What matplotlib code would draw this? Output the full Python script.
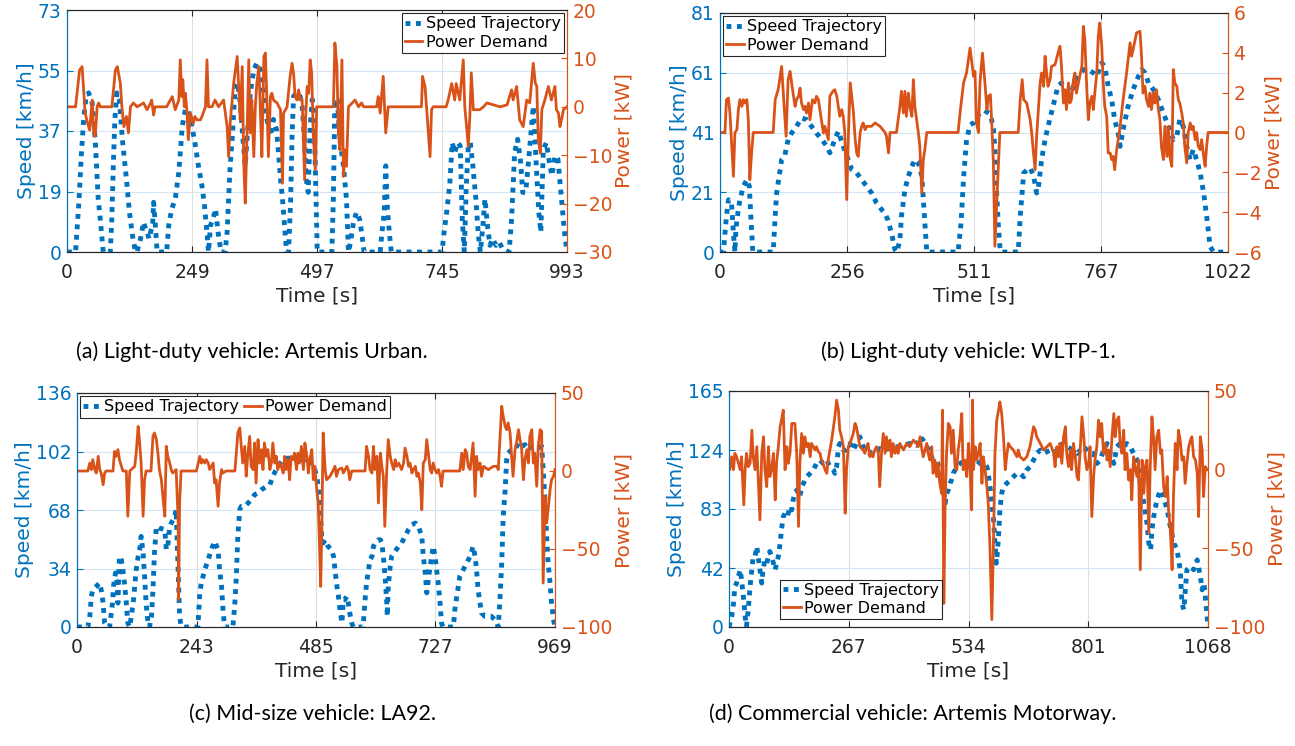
import matplotlib
matplotlib.use("Agg")
import matplotlib.pyplot as plt

# ---------------- data ----------------
# (a) Light-duty vehicle: Artemis Urban
a_speed_t = [0, 17, 20, 24, 28, 33, 38, 43, 50, 56, 62, 66, 72,
             86, 89, 92, 95, 99, 104, 110, 118, 124, 130, 136,
             139, 146, 152, 156, 159, 163, 166, 170, 172, 175, 179,
             198, 202, 208, 215, 222, 226, 229, 235, 241, 248, 254, 261, 268, 273, 278, 281, 285, 290, 295, 300, 306,
             314, 318, 321, 324, 328, 331, 334, 339, 344, 349, 354, 358, 364, 371, 377, 384, 391, 397, 404, 410,
             416, 420, 424, 428, 432, 436,
             440, 444, 447, 450, 457, 463, 467, 471, 475, 479, 483, 487, 491, 494, 497,
             526, 529, 532, 537, 542, 549, 555, 559,
             563, 569, 575, 581, 586, 590,
             622, 625, 630, 633, 636, 640, 644,
             745, 748, 754, 760, 765, 770, 776, 781, 785, 789, 793, 797, 801, 806, 812, 817, 821, 826, 830, 835,
             840, 845, 852, 858, 865, 878, 883, 889, 895, 901, 905, 911, 917, 926, 932, 937, 941, 946, 952, 958,
             963, 969, 975, 982, 988, 993]
a_speed_v = [0, 0, 7, 16, 28, 40, 47, 48, 45, 34, 16, 10, 0,
             0, 10, 26, 40, 48, 46, 34, 22, 12, 5, 0,
             0, 4, 9, 7, 6, 4, 6, 8, 15, 9, 0,
             0, 8, 13, 16, 24, 32, 38, 43, 43, 38, 33, 26, 20, 14, 6, 0, 8, 10, 13, 6, 0,
             0, 6, 16, 26, 34, 42, 50, 51, 45, 35, 26, 35, 48, 55, 57, 55, 48, 40, 35, 40,
             37, 30, 22, 16, 8, 0,
             0, 15, 35, 47, 48, 47, 44, 35, 22, 18, 38, 46, 40, 20, 0,
             0, 16, 46, 46, 34, 26, 16, 0,
             3, 9, 12, 10, 5, 0,
             0, 5, 12, 26, 14, 6, 0,
             0, 5, 12, 20, 33, 30, 33, 32, 10, 0, 20, 32, 33, 26, 16, 5, 0, 8, 16, 8,
             2, 4, 2, 3, 1, 0, 10, 30, 34, 27, 18, 18, 28, 44, 26, 12, 6, 31, 33, 27,
             23, 29, 28, 16, 6, 0]
a_power_t = [0, 17, 20, 25, 30, 33, 36, 41, 45, 50, 53, 56, 60, 63, 66,
             89, 93, 96, 100, 106, 109, 113, 118, 122, 126, 132, 139,
             146, 152, 159, 166, 168, 172, 175,
             198, 202, 209, 215, 222, 225, 228, 230, 233, 235, 238, 241, 245, 251, 254, 258, 265, 268, 275, 278,
             281, 288, 294, 301,
             311, 318, 321, 324, 331, 338, 341, 344, 348, 351, 354, 358, 361, 364, 367, 371, 374, 377, 381, 384,
             387, 391, 394, 397, 400, 404, 407, 410, 417, 424, 428, 430, 434, 437, 443, 447, 450, 453, 457, 460,
             464, 467, 472, 474, 477, 480, 483, 486, 489, 493, 496,
             529, 532, 536, 539, 542, 546, 549, 552, 555, 559,
             572, 575, 579, 585, 589,
             615, 618, 622, 628, 633, 638,
             704, 706, 711, 714, 721, 724, 727,
             753, 757, 764, 770, 773, 780, 787, 790, 797, 800, 803, 807, 814, 820, 827, 834, 847, 860, 874,
             883, 886, 893, 899, 906, 913, 919, 926, 930, 933, 936, 940, 943, 949, 956, 962, 969, 972, 976, 979,
             982, 986, 993]
a_power_p = [0, 0, 2.8, 7.6, 8.3, 3.5, -1.3, -3.4, -4.8, 1.4, -5.4, -6.1, 0.1, 0.8, 0,
             0, 4.2, 7.6, 8.3, 4.8, 0, -4.1, -2, -5.4, 0, 0.8, 0,
             0.4, 0.8, -0.6, 0.8, 1.4, -1.7, 0,
             0, 0.8, 2.1, -0.6, 1.4, 9.7, 2.1, 5.6, 0, 2.8, -0.6, -6.8, -1.3, -3.4, -2, -2.7, -2.7, -2, 0, 9.7,
             0, 0, 1.4, 0,
             1.4, -4.1, -10.3, -3.4, 4.9, 10.4, 4.2, -2.7, 8.3, -11.6, -19.9, -4.1, 9.7, -5.4, 1.4, -10.3, 0, 4.9, 8.3, -0.6,
             -10.3, 10.4, 11.1, 1.4, -10.3, 2.1, 2.8, 1.4, 0.8, -0.6, -15.8, -1.3, -0.6, 0, 6.2, 9, 6.9, 2.1, 1.4, 3.5,
             1.4, 1.4, -15.1, -2, 4.2, 2.8, 9.7, 6.9, -5.4, -13, 0,
             0, 13.2, 8.5, -5.4, -8.9, 9.7, -14.4, -8.9, -12.3, 0,
             1.4, 0.8, 0, 0.8, 0,
             0, 2.1, -1.3, 6.3, -5.4, 0,
             0, 6.3, 4.2, 0, -10.3, -0.6, 0,
             0, 1.4, 4.8, 1.4, 4.8, 1.4, 9.7, 0, -8.2, -2, 7, -0.6, -0.6, -0.6, 0, 0.8, 0.4, 0, 0.4,
             3.5, 1.4, 4.2, -2.7, -4.1, 1.4, 0.8, 9, 4.9, 4.2, -6.8, -9.6, -0.6, 1.4, 4.2, 1.4, 4.2, -0.6, -1.3, -4.1,
             -2.7, -0.6, 0]

# (b) Light-duty vehicle: WLTP-1
b_speed_t = [0, 7, 10, 13, 17, 23, 27, 30, 32, 35, 37, 40, 47, 54, 59, 62, 66,
             107, 111, 114, 119, 124, 130, 137, 144, 154, 164, 174, 184, 194, 205, 215, 221, 231, 238, 248, 258,
             265, 275, 285, 295, 305, 315, 325, 332, 338, 345, 352, 356,
             362, 365, 372, 379, 386, 392, 399, 406, 409, 413, 416,
             479, 485, 490, 496, 503, 512, 522, 532, 541, 546, 550, 553, 556, 560, 563, 565,
             600, 604, 611, 618, 624, 631, 637, 640, 647, 654, 660, 670, 680, 687, 694, 701, 711, 721, 731, 741,
             751, 758, 768, 774, 781, 788, 794, 801, 805, 811, 821, 831, 842, 849, 855, 862, 872, 882, 892, 902,
             912, 919, 925, 932, 939, 946, 952, 959, 966, 973, 979, 986, 993, 1022]
b_speed_v = [0, 0, 6.4, 12.1, 17.7, 17.2, 6.4, 0, 7.6, 12.1, 14.4, 17.7, 22.3, 24.5, 22.3, 12.1, 0,
             0, 12.1, 20, 25.7, 31.3, 32.4, 38.1, 40.3, 42.6, 45.4, 44.9, 42.6, 40.3, 38.1, 35.8, 33.6, 38.1, 40.9, 35.8, 31.3,
             27.9, 26.8, 24.5, 22.3, 20, 16.6, 14.4, 13.1, 10.7, 6.4, 0.8, 0,
             4.2, 12.1, 21.1, 25.7, 29, 31.3, 30.2, 25.7, 17.7, 7.6, 0,
             0, 10, 25, 38, 43, 44, 47, 48, 47, 45, 42, 35, 22, 9, 2, 0,
             0, 12.1, 26.8, 27.9, 28.5, 25.7, 20, 21.1, 31.3, 38.1, 42.6, 49.4, 56.2, 57.3, 53.9, 51.6, 56.2, 59.6, 61.8, 61.8,
             60.7, 59.6, 64.1, 62.9, 56.2, 51.6, 44.9, 40.3, 35.8, 41.5, 49.4, 55, 59.6, 61.8, 60.7, 57.3, 55, 51.6, 47.1, 42.6,
             38.1, 39.2, 44.9, 42.6, 35.8, 31.3, 34.7, 31.3, 26.8, 20, 12.1, 1.9, 0, 0]
b_power_t = [0, 10, 13, 17, 20, 23, 27, 30, 34, 37, 40, 44, 47, 50, 54, 57, 60, 64, 67,
             107, 111, 117, 124, 129, 133, 137, 141, 146, 151, 154, 158, 161, 164, 168, 171, 174, 178, 181, 186,
             191, 194, 198, 201, 205, 208, 211, 218, 221, 227, 231, 235, 238, 241, 245, 248, 251, 255, 258, 262,
             265, 268, 272, 275, 278, 282, 285, 288, 292, 295, 305, 312, 322, 332, 335, 339, 342,
             355, 362, 365, 369, 372, 375, 379, 382, 386, 389, 392, 399, 402, 406, 409, 412, 416,
             479, 483, 490, 496, 503, 506, 510, 513, 516, 520, 523, 528, 533, 537, 540, 544, 547, 550, 553, 557, 560, 563,
             600, 604, 608, 611, 617, 624, 627, 630, 634, 637, 644, 647, 651, 654, 657, 660, 664, 667, 674, 681,
             684, 687, 691, 694, 697, 701, 704, 707, 711, 714, 717, 721, 728, 731, 734, 738, 741, 744, 748, 751,
             754, 758, 761, 764, 768, 771, 774, 778, 781, 785, 788, 791, 794, 798, 801, 805, 811, 818, 825, 828,
             831, 838, 845, 848, 851, 855, 858, 862, 865, 868, 872, 875, 878, 882, 885, 888, 892, 895, 899, 902,
             905, 909, 912, 915, 919, 922, 925, 929, 932, 935, 939, 942, 946, 949, 952, 956, 959, 962, 966, 969,
             973, 976, 979, 982, 1022]
b_power_p = [0, 0, 1.65, 1.73, 0.98, -0.36, -2.2, 0, 0.14, 1.15, 1.65, 1.31, 1.65, 1.48, 1.65, 0.64, -2.37, -0.86, 0,
             0, 1.65, 2.15, 3.32, 1.31, -0.19, 2.65, 3.07, 2.15, 1.31, 1.65, 1.82, 2.23, 1.48, 1.15, 1.31, 0.98, 1.48, 0.64, 1.65,
             1.48, 1.82, 1.65, 1.15, 0.48, -0.03, 0.31, -0.36, 1.82, 2.07, 2.15, 1.82, 1.31, 0.81, 1.15, 0.81, 0, -3.37, -0.36, 2.49,
             1.82, 1.15, -0.36, -1.03, -1.2, 0, 0.31, 0.48, 0.14, 0.31, 0.31, 0.48, 0.31, 0, -0.19, -1.03, 0,
             0, 1.31, 2.07, 0.98, 2.07, 0.81, 1.98, 1.31, 0.81, 2.65, 1.31, 0, -0.69, -3.04, -1.36, -0.86, 0,
             0, 1.0, 2.49, 2.99, 4.24, 3.66, 2.82, 3.07, 0.48, 0, 2.49, 3.99, 2.49, 1.15, 1.82, 1.9, 0.31, -1.53, -5.71, -3.37, -1.7, 0,
             0, 1.65, 2.65, 1.65, 1.48, 0.64, 0, -0.86, -1.87, -0.19, 2.49, 2.99, 2.32, 3.83, 2.99, 2.32, 2.65, 3.32, 3.41, 4.08,
             4.33, 3.32, 1.48, 2.15, 1.15, 2.49, 1.48, 1.65, 2.65, 2.99, 1.98, 2.49, 3.32, 5.33, 4.66, 2.15, 0.64, 1.48, 1.82, 1.15,
             1.98, 2.99, 4.83, 5.5, 4.33, 2.49, 1.31, 0.81, -1.03, -1.03, -1.36, -1.2, -1.87, -0.86, -0.36, 0.31, 1.65, 2.99, 4.5, 3.83,
             4.16, 5.0, 5.08, 3.83, 1.98, 2.32, 1.65, 1.31, 1.98, 1.15, 1.98, 1.48, 2.15, 1.15, 0.64, -0.69, -1.36, 0.31, -1.2, 0.31,
             -1.2, -1.7, 3.16, 2.49, 2.32, 1.65, 1.48, 0.98, 0.48, -0.69, -1.53, 0, 0.48, 0.14, 0.31, -0.36, 0, -0.69, -0.86, -0.36,
             -1.2, -1.7, -0.69, 0, 0]

# (c) Mid-size vehicle: LA92
c_speed_t = [0, 22, 26, 29, 32, 39, 46, 49, 53, 56, 61, 66, 72, 74, 78, 81, 83, 86, 90, 93, 97, 100, 103, 107, 110,
             114, 117, 120, 124, 127, 130, 134, 137, 140, 144, 147, 151, 154, 157, 161, 167, 174, 178, 181, 184,
             188, 191, 198, 201, 205, 208, 211, 218,
             245, 249, 252, 259, 266, 272, 279, 286, 289, 293, 296, 299,
             316, 320, 323, 326, 330, 333, 340, 347, 353, 360, 367, 374, 384, 391, 397, 407, 418, 428, 434, 441,
             448, 455, 461, 468, 475, 482, 486, 489, 493, 496, 499, 503, 506, 509, 516, 520, 523, 526, 530, 533,
             537, 540, 543, 547, 550, 553, 557, 560,
             580, 584, 587, 591, 594, 598, 601, 604, 608, 611, 615, 618, 621, 625, 628, 629, 631, 635, 638, 645,
             652, 658, 665, 672, 679, 686, 692, 699, 702, 706, 709, 713, 719, 722, 726, 729, 733, 736, 739, 742,
             763, 766, 770, 776, 783, 790, 797, 803, 807, 810, 813, 817, 820, 827, 834, 840, 847, 851, 854, 857,
             861, 864, 868, 871, 874, 881, 888, 895, 901, 908, 915, 922, 929, 935, 942, 945, 949, 952, 955, 959,
             962, 966, 969]
c_speed_v = [0, 0, 6.2, 17.8, 21.7, 23.6, 25.6, 21.7, 13.9, 2.3, 0, 0, 13.9, 23.6, 31.4, 25.6, 13.9, 41.1, 39.1, 33.3, 23.6, 13.9, 2.3, 0, 6.2,
             13.9, 23.6, 33.3, 41.1, 44.9, 52.7, 43, 29.4, 13.9, 2.3, 0, 6.2, 21.7, 43, 58.5, 57.5, 56.9, 56.6, 44.9, 46.9,
             58.5, 60.4, 64.3, 68.2, 33.3, 6.2, 0.4, 0,
             0, 19.8, 25.6, 33.3, 39.1, 44.9, 49.8, 44.9, 33.3, 23.6, 10.1, 0,
             0, 13.9, 29.4, 52.7, 68.2, 70.1, 70.1, 72.1, 74, 76.9, 77.9, 79.8, 81.7, 82.7, 87.6, 93.4, 97.2, 98.2, 97.2, 99.2,
             97.2, 95.3, 97.2, 98.2, 93.4, 91.4, 87.6, 81.7, 68.2, 52.7, 48.8, 50.7, 48.8, 46.9, 44.9, 41.1, 33.3, 25.6, 17.8, 10.1,
             2.3, 15.9, 15.9, 17.8, 13.9, 8.1, 2.3, 0,
             0, 15.9, 25.6, 33.3, 39.1, 41.1, 46.9, 48.8, 49.8, 50.7, 50.7, 48.8, 41.1, 27.5, 13.9, 6.2, 23.6, 35.3, 41.1, 44,
             46.9, 48.8, 52.7, 56.6, 59.5, 60.4, 58.5, 52.7, 41.1, 31.4, 19.8, 29.4, 41.1, 46.9, 41.1, 33.3, 23.6, 13.9, 2.3, 0,
             0, 10.1, 17.8, 29.4, 33.3, 37.2, 41.1, 46.9, 41.1, 33.3, 21.7, 13.9, 8.1, 6.2, 6.2, 6.2, 4.3, 2.3, 0, 13.9,
             37.2, 64.3, 79.8, 97.2, 101.1, 103, 103, 106.9, 105, 106, 103, 105, 105, 104, 105, 91.4, 72.1, 52.7, 37.2, 25.6,
             13.9, 4.3, 0]
c_power_t = [0, 22, 26, 29, 32, 36, 39, 43, 46, 49, 53, 56, 59, 73, 76, 79, 83, 86, 93, 100, 103, 107, 117, 120, 124,
             127, 130, 134, 137, 140, 150, 154, 157, 161, 164, 167, 171, 174, 178, 181, 184, 188, 191, 194, 201,
             205, 206, 208, 211,
             242, 249, 252, 255, 259, 262, 266, 269, 276, 279, 282, 286, 289, 293, 296, 302,
             320, 323, 326, 330, 333, 336, 340, 343, 346, 350, 353, 357, 360, 363, 367, 370, 374, 377, 380, 384,
             387, 391, 394, 397, 401, 404, 407, 411, 414, 418, 421, 424, 428, 431, 434, 438, 441, 445, 448, 451,
             455, 459, 462, 466, 469, 472, 476, 479, 482, 486, 489, 491, 494, 496, 499, 503, 506, 513, 520, 523,
             526, 530, 537, 540, 547, 550, 553, 557,
             584, 587, 591, 594, 598, 601, 604, 608, 611, 615, 618, 621, 624, 628, 631, 635, 638, 642, 645, 648,
             652, 658, 662, 665, 669, 672, 675, 679, 682, 686, 689, 692, 696, 699, 702, 706, 709, 713, 716, 719,
             722, 726, 729, 733, 736, 739, 742,
             776, 780, 783, 787, 790, 793, 797, 800, 803, 807, 810, 813, 817, 820, 824, 834, 844, 851, 854, 857,
             861, 864, 868, 871, 874, 878, 881, 884, 888, 891, 895, 898, 901, 905, 908, 912, 915, 918, 922, 925,
             928, 932, 935, 939, 942, 945, 949, 952, 955, 959, 962, 966, 969]
c_power_p = [0, 0, 5.1, 0.9, 7.3, 0.9, -1.3, 9.4, 0.9, -1.3, -8.8, -1.3, 0, 0, 12.6, 9.4, 13.7, 7.3, 0, 0, -29, 0, 3, 11.5, 28.6,
             18, 5.1, -29, -5.6, 0, 0, 22.2, 24.4, 20.1, 11.5, 0.9, -5.6, -16.2, -29, 15.8, 9.4, 5.1, 0.9, -1.3, 0.9,
             -31.2, -82.5, -20.5, 0,
             0, 9.4, 5.1, 7.3, 5.1, 7.3, 5.1, 0.9, 5.1, -7.7, -5.6, -22.6, -7.7, 0.9, -1.3, 0,
             0, 11.5, 24.4, 27.6, 15.8, 5.1, 15.8, -3.4, 9.4, 22.2, 3, 0.9, 18, -7.7, 20.1, 5.1, 13.7, 0.9, 18, 9.4,
             13.7, 0.9, 5.1, 18, 5.1, 9.4, 0.9, 5.1, 3, -1.3, 9.4, 0.9, 7.3, -5.6, 9.4, 7.3, 11.5, 0.9, 11.5, 5.1,
             15.8, 0.9, 18, 9.4, -1.3, 7.3, 13.7, -5.6, 3, -12, -20.5, -41.9, -74, -41.9, 24.4, 0.9, -5.6, -3.4, 0.9, 3,
             -3.4, 0.9, 1.9, -1.3, 3, 0.9, -5.6, 0,
             0, 15.8, 9.4, 0.9, -1.3, 15.8, 0.9, 9.4, -20.5, 11.5, 3, -3.4, -35.5, 0.9, 20.1, 9.4, 5.1, 0.9, 7.3, 3,
             5.1, 0.9, 5.1, 14.7, 9.4, 3, 5.1, -1.3, 0.9, 3, -3.4, -1.3, -7.7, -24.8, 5.1, 7.3, 20.1, 9.4, 0.9, -1.3,
             5.1, 0.9, -1.3, 0.9, -3.4, -9.8, 0,
             0, 11.5, 0.9, 13.7, 11.5, 3, 0.9, 9.4, 18, -16.2, 9.4, 0.9, 5.1, -3.4, 3, 0.9, 3, 3, 0.9, 18,
             41.5, 35.1, 28.6, 26.5, 30.8, 24.4, 9.4, -3.4, 13.7, 18, 26.5, 20.1, 15.8, -5.6, 7.3, 13.7, 5.1, 22.2, 26.5, 5.1,
             11.5, -9.8, 15.8, 26.5, 25.4, -71.8, -16.2, -33.3, -24.8, -12, -5.6, -3.4, 0.9]

# (d) Commercial vehicle: Artemis Motorway
d_speed_t = [0, 6, 10, 13, 17, 21, 25, 28, 32, 36, 39, 43, 47, 51, 54, 58, 62, 65, 69, 73, 76, 80, 84, 88, 91,
             95, 99, 103, 106, 110, 114, 117, 121, 125, 129, 132, 136, 140, 143, 147, 151, 155, 158, 162, 166,
             173, 181, 188, 195, 203, 210, 218, 225, 233, 236, 240, 244, 247, 255, 262, 270, 277, 284, 292, 299,
             307, 314, 321, 329, 336, 344, 359, 374, 389, 403, 418, 426, 433, 441, 448, 455, 463, 470, 474, 478,
             482, 485, 489, 493, 496, 500, 508, 515, 522,
             537, 545, 552, 560, 567, 575, 578, 582, 586, 590, 593, 596, 597, 601, 604, 608, 612, 619, 627, 634,
             642, 649, 657, 664, 671, 679, 686, 694, 701, 709, 716, 724, 731, 738, 746, 753, 761, 768, 776, 783,
             791, 798, 805, 813, 820, 828, 835, 843, 850, 858, 865, 872, 880, 887, 895, 902, 910, 917, 925, 932,
             936, 940, 943, 947, 954, 962, 969, 977, 984, 992, 999, 1006, 1010, 1014, 1018, 1021, 1029, 1036, 1040, 1044,
             1051, 1055, 1059, 1062, 1066, 1068]
d_speed_v = [0, 7.4, 16.3, 28.4, 30.7, 35.3, 39.9, 33, 21.4, 7.4, 0.5, 12.1, 28.4, 40, 49.3, 49.3, 56.2, 49.3, 40, 30.7, 40, 46.9, 44.6, 49.3, 52.8,
             49.3, 44.6, 40, 44.6, 49.3, 58.6, 67.9, 77.2, 79.5, 77.2, 79.5, 84.1, 81.8, 88.8, 93.4, 95.7, 93.4, 91.1, 98.1, 100.4,
             105, 107.4, 109.7, 114.3, 116.7, 114.3, 116.7, 112, 109.7, 107.4, 112, 126, 128.3, 123.6, 123.6, 128.3, 123.6, 128.3, 132.9, 126,
             123.6, 121.3, 123.6, 122.5, 124.8, 123.6, 124.8, 126, 127.1, 128.3, 127.1, 132.9, 130.6, 126, 121.3, 116.7, 116.7, 109.7, 102.7, 95.7,
             86.5, 93.4, 95.7, 100.4, 102.7, 107.4, 112, 114.3, 115.5,
             116.7, 117.8, 116.7, 114.3, 114.3, 112, 107.4, 98.1, 86.5, 74.8, 58.6, 44.6, 46.9, 63.2, 81.8, 93.4, 98.1, 100.4, 102.7, 105,
             107.4, 107.4, 105, 109.7, 112, 116.7, 121.3, 123.6, 121.3, 122.5, 123.6, 121.3, 123.6, 127.1, 128.3, 126, 124.8, 123.6, 121.3, 123.6,
             126, 123.6, 121.3, 121.3, 114.3, 116.7, 123.6, 128.3, 121.3, 114.3, 126, 128.3, 126, 128.3, 126, 121.3, 116.7, 100.4, 86.5, 72.5,
             58.6, 53.9, 67.9, 77.2, 88.8, 95.7, 91.1, 81.8, 70.2, 58.6, 53.9, 40, 16.7, 12.1, 28.4, 40, 42.3, 40, 44.6, 46.9,
             35.3, 26, 30.7, 21.4, 7.4, 0]
d_power_t = [0, 2, 6, 10, 13, 17, 21, 25, 28, 33, 36, 39, 43, 47, 51, 54, 58, 62, 65, 69, 73, 77, 80, 84, 88,
             91, 95, 99, 103, 106, 110, 114, 117, 121, 125, 129, 132, 136, 140, 143, 147, 151, 155, 158, 162,
             166, 169, 173, 177, 181, 184, 188, 192, 195, 199, 203, 206, 210, 214, 218, 221, 225, 229, 232, 236,
             240, 244, 247, 251, 255, 259, 262, 266, 270, 277, 281, 284, 288, 292, 299, 303, 307, 310, 314, 318,
             321, 325, 329, 333, 336, 340, 344, 348, 351, 355, 359, 362, 366, 370, 374, 377, 381, 389, 396, 403,
             411, 418, 422, 426, 429, 433, 437, 441, 444, 448, 452, 455, 459, 463, 466, 470, 474, 476, 479, 482,
             485, 489, 493, 496, 500, 504, 508, 511,
             515, 519, 522, 526, 530, 534, 537, 541, 543, 545, 549, 552, 556, 560, 564, 567, 571, 575, 578, 582,
             586, 590, 593, 597, 601, 604, 608, 612, 616, 619, 623, 627, 634, 642, 645, 649, 657, 664, 671, 675,
             679, 683, 686, 694, 701, 709, 716, 724, 727, 731, 735, 738, 742, 746, 750, 753, 757, 761, 764, 768,
             772, 776, 779, 783, 787, 791, 794, 798, 802, 805, 809, 813, 816, 820, 824, 828, 831, 835, 839, 843,
             846, 850, 854, 858, 861, 865, 869, 872, 876, 880, 883, 887, 891, 895, 898, 902, 906, 910, 913, 917,
             921, 925, 928, 932, 936, 939, 943, 947, 950, 954, 958, 962, 965, 969, 973, 977, 980, 984, 988, 991,
             995, 999, 1002, 1006, 1010, 1014, 1017, 1021, 1025, 1029, 1032, 1036, 1040, 1044, 1047, 1051, 1055, 1058, 1062, 1066,
             1068]
d_power_p = [0, 0, 8.2, 0, 10.4, 8.2, 4, 0, 8.2, -22.4, 0, 10.4, 1.9, 4, 25.1, 8.2, 0, 14.6, -4.4, -31.9, 10.4, 20.9, 0, -10.8, 14.6,
             -4.4, 0, 10.4, -19.2, 4, 14.6, 27.3, 31.5, 37.8, 0, 14.6, 4, 10.4, 29.4, 29.4, 29.4, 10.4, -36.1, 4, 23,
             10.4, 20.9, 14.6, 16.7, 8.2, 16.7, 14.6, 12.5, 14.6, 11.4, 10.4, 6.1, 4, 0, -2.3, 6.1, 12.5, 18.8, 25.1, 33.6,
             44.2, 37.8, 25.1, 20.9, 14.6, -27.7, 0, 14.6, 16.7, 23, 29.4, 27.3, 20.9, 14.6, 12.5, 10.4, 14.6, 16.7, 8.2, 10.4,
             8.2, 12.5, 14.6, 10.4, -10.8, 10.4, 23, 10.4, 20.9, 12.5, 18.8, 8.2, 16.7, 10.4, 14.6, 10.4, 16.7, 12.5, 16.7, 14.6,
             18.8, 16.7, 14.6, 20.9, 14.6, 8.2, 12.5, 16.7, 10.4, 6.1, 14.6, -2.3, 6.1, -4.4, 4, -8.7, -15, 37.8, -85, -20,
             10, 29.4, 27.3, 10.4, 25.1, 1.9, 0, 12.5,
             20.9, 35.7, 0, 6.1, -4.4, 16.7, 4, -25.6, 44.2, 0, 14.6, 6.1, 10.4, 16.7, -8.7, 8.2, 0, -10.8, -21.3, -50.9,
             -95.3, -42.5, 10.4, 31.5, 37.8, 43.1, 35.7, 20.9, 0, 8.2, 16.7, 14.6, 12.5, 8.2, 12.5, 8.2, 6.1, 8.2, 14.6, 20.9,
             27.3, 25.1, 20.9, 16.7, 12.5, 14.6, 16.7, 10.4, 1.9, 14.6, 8.2, 16.7, 4, 20.9, 27.3, 10.4, 1.9, 12.5, 0, 16.7,
             8.2, -4.4, -6.6, 12.5, 33.6, 20.9, 8.2, 0, 4, 14.6, -29.8, -4.4, 6.1, 14.6, 31.5, 20.9, 29.4, 10.4, 16.7, 6.1,
             12.5, 1.9, 20.9, 35.7, 20.9, 31.5, 33.6, 16.7, 10.4, 25.1, 0, 10.4, -6.6, 0, -19.2, 8.2, 0, -4.4, 6.1, -63.6,
             6.1, -15, 1.9, 6.1, -40.4, 0, 33.6, 18.8, 0, 20.9, 25.1, 10.4, 12.5, -10.8, -17.1, -4.4, -25.6, -38.2, -63.6, -17.1,
             16.7, 0, 25.1, 18.8, 6.1, 8.2, -8.7, 4, 14.6, 18.8, 20.9, 8.2, 6.1, -2.3, -29.8, 20.9, 12.5, -17.1, 1.9, 0,
             0]

# axis ranges and tick labels
x_max = [993, 1022, 969, 1068]
x_tick_labels = [["0", "249", "497", "745", "993"],
                 ["0", "256", "511", "767", "1022"],
                 ["0", "243", "485", "727", "969"],
                 ["0", "267", "534", "801", "1068"]]
speed_max = [73, 81, 136, 165]
speed_tick_labels = [["0", "19", "37", "55", "73"],
                     ["0", "21", "41", "61", "81"],
                     ["0", "34", "68", "102", "136"],
                     ["0", "42", "83", "124", "165"]]
power_lim = [(-30, 20), (-6, 6), (-100, 50), (-100, 50)]
power_ticks = [[-30, -20, -10, 0, 10, 20],
               [-6, -4, -2, 0, 2, 4, 6],
               [-100, -50, 0, 50],
               [-100, -50, 0, 50]]
captions = ["(a) Light-duty vehicle: Artemis Urban.",
            "(b) Light-duty vehicle: WLTP-1.",
            "(c) Mid-size vehicle: LA92.",
            "(d) Commercial vehicle: Artemis Motorway."]

BLUE = "#0072BD"
ORANGE = "#D95319"
DARK = "#262626"

W, H = 1295, 746
fig = plt.figure(figsize=(W / 100, H / 100), dpi=100)
plt.rcParams["font.family"] = ["DejaVu Sans"]


def px_rect(left, top, right, bottom):
    return [left / W, 1 - bottom / H, (right - left) / W, (bottom - top) / H]


rects = [px_rect(67, 10, 567, 252), px_rect(720, 13, 1228, 252),
         px_rect(77, 393, 555, 627), px_rect(729, 391, 1208, 627)]
caption_pos = [(252, 352), (968, 352), (313, 714), (913, 714)]
legend_opts = [dict(loc="upper right", ncol=1),
               dict(loc="upper left", ncol=1),
               dict(loc="upper left", ncol=2),
               dict(loc="lower left", ncol=1, bbox_to_anchor=(0.1, 0.02))]

panels = [(a_speed_t, a_speed_v, a_power_t, a_power_p),
          (b_speed_t, b_speed_v, b_power_t, b_power_p),
          (c_speed_t, c_speed_v, c_power_t, c_power_p),
          (d_speed_t, d_speed_v, d_power_t, d_power_p)]

for i, (st, sv, pt, pv) in enumerate(panels):
    ax1 = fig.add_axes(rects[i])
    ax2 = ax1.twinx()

    l1, = ax1.plot(st, sv, color=BLUE, lw=3.5, linestyle=(0, (1, 1.15)),
                   dash_capstyle="butt", label="Speed Trajectory")
    l2, = ax2.plot(pt, pv, color=ORANGE, lw=2.0, label="Power Demand")

    xt = [x_max[i] * k / 4 for k in range(5)]
    yt = [speed_max[i] * k / 4 for k in range(5)]
    ax1.set_xlim(0, x_max[i])
    ax1.set_ylim(0, speed_max[i])
    ax2.set_ylim(*power_lim[i])
    ax1.set_xticks(xt)
    ax1.set_xticklabels(x_tick_labels[i])
    ax1.set_yticks(yt)
    ax1.set_yticklabels(speed_tick_labels[i])
    ax2.set_yticks(power_ticks[i])

    ax1.grid(True, axis="x", color="#dedede", lw=0.8)
    ax1.grid(True, axis="y", color="#d5e5f3", lw=0.8)
    ax1.set_axisbelow(True)

    ax1.tick_params(axis="x", direction="in", length=4, pad=8, labelsize=13.5,
                    colors=DARK, top=True)
    ax1.tick_params(axis="y", direction="in", length=4, pad=4, labelsize=13.5,
                    colors=BLUE)
    ax2.tick_params(axis="y", direction="in", length=4, pad=4, labelsize=13.5,
                    colors=ORANGE)

    for ax in (ax1, ax2):
        ax.spines["top"].set_color(DARK)
        ax.spines["bottom"].set_color(DARK)
        ax.spines["left"].set_color(BLUE)
        ax.spines["right"].set_color(ORANGE)
        for s in ax.spines.values():
            s.set_linewidth(0.8)

    ax1.set_xlabel("Time [s]", fontsize=14.5, color=DARK, labelpad=3)
    ax1.set_ylabel("Speed [km/h]", fontsize=14.5, color=BLUE, labelpad=1)
    ax2.set_ylabel("Power [kW]", fontsize=14.5, color=ORANGE, labelpad=2)

    leg = ax2.legend([l1, l2], ["Speed Trajectory", "Power Demand"],
                     fontsize=11.5, frameon=True, fancybox=False, framealpha=1,
                     edgecolor=DARK, borderpad=0.2, labelspacing=0.2,
                     handlelength=1.1, handletextpad=0.2, borderaxespad=0.2,
                     columnspacing=0.3, **legend_opts[i])
    leg.get_frame().set_linewidth(0.8)

    cx, cy = caption_pos[i]
    fig.text(cx / W, 1 - cy / H, captions[i], ha="center", va="center",
             fontsize=15.5, family=["Lato", "DejaVu Sans"], color="black")

fig.savefig("out.png", dpi=100)
